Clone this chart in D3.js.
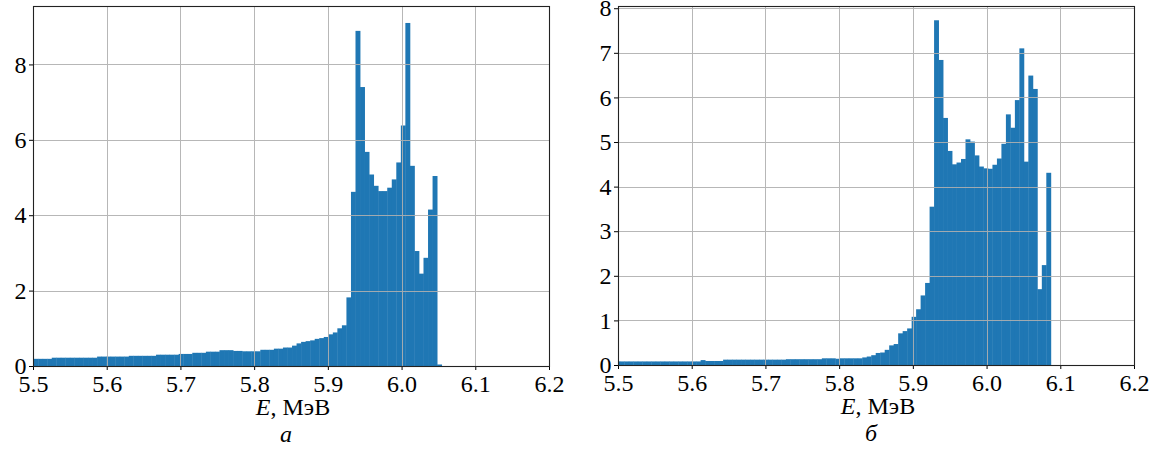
<!DOCTYPE html>
<html>
<head>
<meta charset="utf-8">
<script src="https://cdn.jsdelivr.net/npm/d3@7"></script>
<style>
  html, body { margin: 0; padding: 0; background: #fff; }
  svg { display: block; }
</style>
</head>
<body>
<svg id="chart" width="1156" height="452"></svg>
<script>
// ---------- data ----------
const xTicks = [5.5, 5.6, 5.7, 5.8, 5.9, 6.0, 6.1, 6.2];
const xLabel = "МэВ";

// panel a
const aBinStart = 5.4947;
const aBinWidth = 0.00615;
const aCounts = [
  0.19,0.19,0.19,0.19,0.19,
  0.22,0.22,0.22,0.22,0.22,0.22,0.22,0.22,0.22,0.22,
  0.25,0.25,0.25,0.25,0.25,0.25,0.25,
  0.27,0.27,0.27,0.27,0.27,0.27,
  0.30,0.30,0.30,0.30,0.30,
  0.32,0.32,0.32,
  0.35,0.35,0.35,
  0.38,0.38,0.38,
  0.42,0.42,0.42,
  0.40,0.40,0.39,0.39,0.39,0.39,
  0.43,0.43,0.43,
  0.46,0.46,
  0.49,0.49,
  0.54,
  0.60,
  0.64,0.66,0.68,
  0.72,0.74,
  0.77,0.84,0.89,1.00,1.08,
  1.82,4.62,8.89,7.40,5.68,5.08,4.78,4.64,4.64,4.73,4.95,5.40,6.38,9.10,
  5.31,3.05,2.45,2.87,4.15,5.04,0.04
];
const aYTicks = [0, 2, 4, 6, 8];
const aYMax = 9.55;
const aLetter = "а";

// panel б
const bBinStart = 5.4964;
const bBinWidth = 0.00609;
const bCounts = [
  0.08,0.08,0.08,0.08,0.08,0.08,0.08,0.08,0.08,0.08,0.08,0.08,0.08,0.08,0.08,0.08,0.08,0.08,0.08,
  0.11,
  0.09,0.09,0.09,0.09,
  0.12,0.12,0.12,0.12,0.12,0.12,0.12,0.12,0.12,0.12,0.12,0.12,0.12,0.12,
  0.13,0.13,0.13,0.13,0.13,0.13,0.13,0.13,
  0.15,0.15,0.15,
  0.14,
  0.15,0.15,0.15,0.15,0.15,
  0.17,0.19,0.22,0.27,0.28,0.34,0.44,0.47,0.71,0.76,0.82,1.08,1.25,1.56,1.84,3.55,
  7.73,6.84,5.54,4.80,4.50,4.54,4.62,5.06,5.01,4.70,4.45,4.41,4.40,4.49,4.63,4.96,
  5.62,5.32,5.94,7.10,4.56,6.49,6.19,1.70,2.24,4.31
];
const bYTicks = [0, 1, 2, 3, 4, 5, 6, 7, 8];
const bYMax = 8.05;
const bLetter = "б";

// ---------- drawing ----------
const FONT = '"Liberation Serif", "Times New Roman"';
const svg = d3.select("#chart");
svg.append("rect").attr("width", 1156).attr("height", 452).attr("fill", "#fff");

function panel(id, box, binStart, binWidth, counts, yTicks, yMax, letter) {
  const x = d3.scaleLinear().domain([5.5, 6.2]).range([box.left, box.right]);
  const y = d3.scaleLinear().domain([0, yMax]).range([box.bottom, box.top]);
  const g = svg.append("g");

  g.append("clipPath").attr("id", "clip" + id)
    .append("rect")
    .attr("x", box.left).attr("y", box.top)
    .attr("width", box.right - box.left).attr("height", box.bottom - box.top);

  const bins = counts.map((c, i) => ({
    x0: binStart + i * binWidth,
    x1: binStart + (i + 1) * binWidth,
    v: c
  }));

  g.append("g").attr("clip-path", "url(#clip" + id + ")")
    .selectAll("rect").data(bins).join("rect")
    .attr("x", d => x(d.x0))
    .attr("width", d => x(d.x1) - x(d.x0) + 0.4)
    .attr("y", d => y(d.v))
    .attr("height", d => y(0) - y(d.v))
    .attr("fill", "#1f77b4");

  // grid (above bars, like matplotlib)
  const grid = g.append("g").attr("stroke", "#b0b0b0").attr("stroke-width", 1).attr("opacity", 0.9);
  grid.selectAll("line.vx").data(xTicks).join("line")
    .attr("x1", d => Math.round(x(d)) + 0.5).attr("x2", d => Math.round(x(d)) + 0.5)
    .attr("y1", box.top).attr("y2", box.bottom);
  grid.selectAll("line.hy").data(yTicks).join("line")
    .attr("x1", box.left).attr("x2", box.right)
    .attr("y1", d => Math.round(y(d)) + 0.5).attr("y2", d => Math.round(y(d)) + 0.5);

  // axes
  const xAxis = d3.axisBottom(x).tickValues(xTicks).tickFormat(d3.format(".1f"))
    .tickSizeInner(4).tickSizeOuter(0).tickPadding(3);
  const gx = g.append("g").attr("transform", `translate(0,${box.bottom})`).call(xAxis);
  gx.select(".domain").remove();
  gx.selectAll("text").style("font-family", FONT).style("font-size", "24px").attr("dy", "0.8em");

  const yAxis = d3.axisLeft(y).tickValues(yTicks).tickFormat(d3.format("d"))
    .tickSizeInner(4).tickSizeOuter(0).tickPadding(2.5);
  const gy = g.append("g").attr("transform", `translate(${box.left},0)`).call(yAxis);
  gy.select(".domain").remove();
  gy.selectAll("text").style("font-family", FONT).style("font-size", "24px");

  // frame
  g.append("rect")
    .attr("x", box.left + 0.5).attr("y", box.top + 0.5)
    .attr("width", box.right - box.left).attr("height", box.bottom - box.top)
    .attr("fill", "none").attr("stroke", "#222").attr("stroke-width", 1.1);

  const cx = (box.left + box.right) / 2;
  const lab = g.append("text").attr("x", cx + 2).attr("y", box.bottom + 49)
    .attr("text-anchor", "middle")
    .style("font-family", FONT).style("font-size", "24px");
  lab.append("tspan").style("font-style", "italic").text("E");
  lab.append("tspan").text(", " + xLabel);

  g.append("text").attr("x", cx - 5).attr("y", box.bottom + 76)
    .attr("text-anchor", "middle")
    .style("font-family", FONT).style("font-size", "24px").style("font-style", "italic")
    .text(letter);
}

panel("a", {left: 33, right: 549, top: 6, bottom: 366}, aBinStart, aBinWidth, aCounts, aYTicks, aYMax, aLetter);
panel("b", {left: 618, right: 1134, top: 6, bottom: 365}, bBinStart, bBinWidth, bCounts, bYTicks, bYMax, bLetter);
</script>
</body>
</html>
